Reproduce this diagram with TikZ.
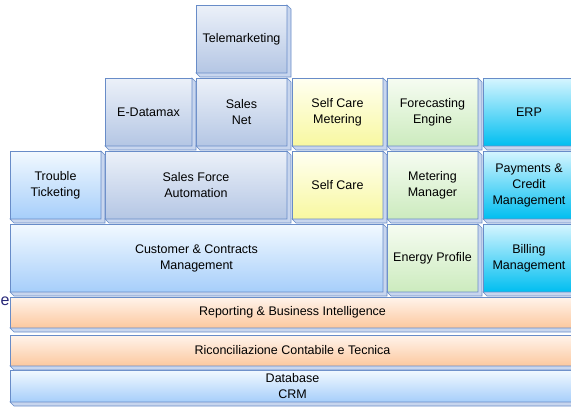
\documentclass[tikz,border=0pt]{standalone}
\usepackage{fontspec}
\setmainfont{Liberation Sans}
\usetikzlibrary{positioning}

\definecolor{edgeblue}{RGB}{104,140,200}
\definecolor{sidefill}{RGB}{200,214,238}
\definecolor{grayTop}{RGB}{236,241,249}
\definecolor{grayBot}{RGB}{180,198,228}
\definecolor{skyTop}{RGB}{242,249,255}
\definecolor{skyBot}{RGB}{166,206,250}
\definecolor{yelTop}{RGB}{255,255,242}
\definecolor{yelBot}{RGB}{248,248,160}
\definecolor{grnTop}{RGB}{246,252,242}
\definecolor{grnBot}{RGB}{204,235,190}
\definecolor{cyanTop}{RGB}{214,245,255}
\definecolor{cyanBot}{RGB}{0,190,240}
\definecolor{orgTop}{RGB}{255,244,236}
\definecolor{orgBot}{RGB}{252,200,158}
\definecolor{navy}{RGB}{40,40,120}

\begin{document}
\begin{tikzpicture}[x=1pt, y=-1pt,
    % Styles
    block/.style={draw=edgeblue, line width=0.8pt, anchor=north west, inner sep=0pt, outer sep=0pt,
        align=center, minimum height=68pt, font=\fontsize{12.5}{16}\selectfont},
    grayblock/.style={block, top color=grayTop, bottom color=grayBot},
    skyblock/.style={block, top color=skyTop, bottom color=skyBot},
    yelblock/.style={block, top color=yelTop, bottom color=yelBot},
    grnblock/.style={block, top color=grnTop, bottom color=grnBot},
    cyanblock/.style={block, top color=cyanTop, bottom color=cyanBot},
    orgbar/.style={block, top color=orgTop, bottom color=orgBot, minimum height=31pt, minimum width=565pt},
    side/.style={draw=edgeblue, line width=0.6pt, fill=sidefill},
]

\useasboundingbox (0,0) rectangle (571,407);
\clip (0,0) rectangle (571,407);

% Top
\node[grayblock, minimum width=91pt] (tele) at (196,5) {Telemarketing};

% Row 2
\node[grayblock, minimum width=87pt] (edat) at (105,78) {E-Datamax};
\node[grayblock, minimum width=91pt] (snet) at (196,78) {Sales\\Net};
\node[yelblock, minimum width=91pt] (scm) at (292,78) {Self Care\\Metering};
\node[grnblock, minimum width=91pt] (fore) at (387,78) {Forecasting\\Engine};
\node[cyanblock, minimum width=92pt] (erp) at (483,78) {ERP};

% Row 3
\node[skyblock, minimum width=91pt] (trouble) at (10,151) {Trouble\\Ticketing};
\node[grayblock, minimum width=182pt] (sfa) at (105,151) {Sales Force\\Automation};
\node[yelblock, minimum width=91pt] (selfcare) at (292,151) {Self Care};
\node[grnblock, minimum width=91pt] (meter) at (387,151) {Metering\\Manager};
\node[cyanblock, minimum width=92pt] (pay) at (483,151) {Payments \&\\Credit\\Management};

% Row 4
\node[skyblock, minimum width=373pt] (ccm) at (10,224) {Customer \& Contracts\\Management};
\node[grnblock, minimum width=91pt] (energy) at (387,224) {Energy Profile};
\node[cyanblock, minimum width=92pt] (billing) at (483,224) {Billing\\Management};

% Bottom bars
\node[orgbar] (report) at (10,297) {Reporting \& Business Intelligence};
\node[orgbar] (ricon) at (10,335) {Riconciliazione Contabile e Tecnica};
\node[skyblock, minimum width=565pt, minimum height=32pt] (db) at (10,370) {Database\\CRM};

% 3D sides
\foreach \n in {tele, edat, snet, scm, fore, erp, trouble, sfa, selfcare, meter, pay,
                ccm, energy, billing, report, ricon, db}
    \draw[side] (\n.north east) -- ++(4,4) -- ([shift={(4,4)}]\n.south east)
        -- ([shift={(4,4)}]\n.south west) -- (\n.south west) -- (\n.south east) -- cycle;

% label at the left edge
\node[navy, font=\fontsize{16}{16}\selectfont, anchor=base west, inner sep=0pt] (lbl) at (0.5,305) {e};

\end{tikzpicture}
\end{document}
